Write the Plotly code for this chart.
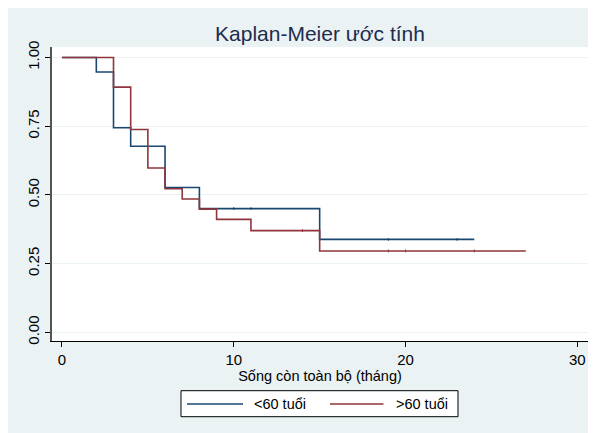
import plotly.graph_objects as go

# Kaplan-Meier step data
lt60_time = [0, 2, 3, 4, 6, 8, 15, 24]
lt60_surv = [1.0, 0.947, 0.744, 0.677, 0.527, 0.450, 0.338, 0.338]
lt60_censor = [10, 11, 19, 23]

gt60_time = [0, 3, 4, 5, 6, 7, 8, 9, 11, 15, 27]
gt60_surv = [1.0, 0.892, 0.738, 0.598, 0.522, 0.485, 0.448, 0.411, 0.370, 0.296, 0.296]
gt60_censor = [14, 19, 20, 24]

x_ticks = [0, 10, 20, 30]
y_ticks = [0.0, 0.25, 0.5, 0.75, 1.0]
y_tick_labels = ["0.00", "0.25", "0.50", "0.75", "1.00"]

names = ["<60 tuổi", ">60 tuổi"]
colors = ["#1a476f", "#90353b"]


def step_value(times, survs, t):
    v = survs[0]
    for ti, si in zip(times, survs):
        if ti <= t:
            v = si
    return v


FONT = "Liberation Sans, Arial, Helvetica, sans-serif"
fig = go.Figure()
groups = [(lt60_time, lt60_surv, lt60_censor), (gt60_time, gt60_surv, gt60_censor)]
for (tt, ss, cc), name, col in zip(groups, names, colors):
    fig.add_trace(go.Scatter(
        x=tt, y=ss, mode="lines", line=dict(shape="hv", color=col, width=1.6),
        name=name, hoverinfo="skip", showlegend=False))
for (tt, ss, cc), name, col in zip(groups, names, colors):
    fig.add_trace(go.Scatter(
        x=cc, y=[step_value(tt, ss, c) for c in cc], mode="markers",
        marker=dict(symbol="line-ns", size=2, line=dict(color=col, width=1)),
        showlegend=False, hoverinfo="skip"))

# screen-space geometry (body margin of 8px offsets the figure)
L, R, T, B = 52, 588, 47, 341
plot_w = R - L
plot_h = B - T


def px(sx):
    return (sx - L) / plot_w


def py(sy):
    return (B - sy) / plot_h


legend_shapes = [
    dict(type="rect", xref="paper", yref="paper", x0=px(181), x1=px(458),
         y0=py(416.7), y1=py(390.7), fillcolor="white",
         line=dict(color="black", width=1)),
    dict(type="line", xref="paper", yref="paper", x0=px(187), x1=px(243),
         y0=py(404), y1=py(404), line=dict(color=colors[0], width=1.6)),
    dict(type="line", xref="paper", yref="paper", x0=px(330), x1=px(383.5),
         y0=py(404), y1=py(404), line=dict(color=colors[1], width=1.6)),
]
legend_texts = [
    dict(text=names[0], xref="paper", yref="paper", x=px(251.5), y=py(404),
         xanchor="left", yanchor="middle", showarrow=False, font=dict(size=14.5)),
    dict(text=names[1], xref="paper", yref="paper", x=px(393.5), y=py(404),
         xanchor="left", yanchor="middle", showarrow=False, font=dict(size=14.5)),
]

fig.update_layout(
    width=596, height=433,
    margin=dict(l=L - 8, r=596 - (R - 8), t=T - 8, b=433 - (B - 8), autoexpand=False),
    paper_bgcolor="#eaf2f3",
    plot_bgcolor="white",
    font=dict(family=FONT, size=14.5, color="black"),
    title=dict(text="Kaplan-Meier ước tính", x=0.5, xref="paper", xanchor="center",
               y=1 - (34 - 8) / 433, yref="container", yanchor="middle",
               font=dict(family=FONT, size=21, color="#1e2c4e")),
    xaxis=dict(range=[-0.58, 30.62], tickvals=x_ticks, ticks="outside", ticklen=5,
               tickcolor="black", showline=True, linecolor="black", linewidth=1,
               showgrid=False, zeroline=False, automargin=False,
               tickfont=dict(size=15),
               title=dict(text="Sống còn toàn bộ (tháng)", standoff=1,
                          font=dict(size=14.5))),
    yaxis=dict(range=[-0.0317, 1.038], tickvals=y_ticks, ticktext=y_tick_labels,
               tickangle=-90, ticks="outside", ticklen=5, tickcolor="black",
               tickfont=dict(size=15),
               showline=True, linecolor="#555555", linewidth=1.5, automargin=False,
               showgrid=True, gridcolor="#eaf2f3", gridwidth=1, zeroline=False),
    showlegend=False,
    shapes=legend_shapes,
    annotations=legend_texts,
)

fig.write_html("out.html")
